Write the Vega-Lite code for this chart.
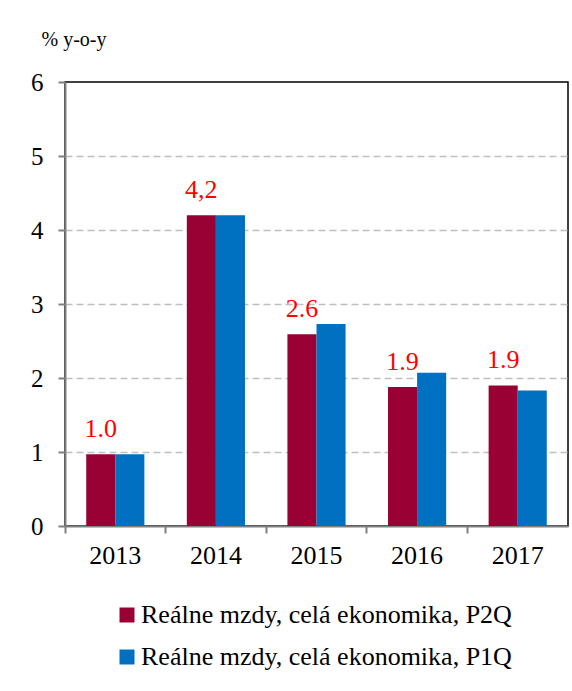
{
  "$schema": "https://vega.github.io/schema/vega-lite/v6.json",
  "width": 503,
  "height": 444,
  "autosize": {"type": "none"},
  "padding": {"left": 65, "top": 82, "right": 4, "bottom": 165},
  "background": "white",
  "config": {
    "font": "Liberation Serif, serif",
    "axis": {"labelFont": "Liberation Serif, serif", "titleFont": "Liberation Serif, serif"},
    "legend": {"labelFont": "Liberation Serif, serif"},
    "text": {"font": "Liberation Serif, serif"},
    "view": {"stroke": "black", "strokeWidth": 1.5}
  },
  "data": {
    "values": [
      {"year": "2013", "series": "Reálne mzdy, celá ekonomika, P2Q", "value": 0.97, "label": "1.0"},
      {"year": "2013", "series": "Reálne mzdy, celá ekonomika, P1Q", "value": 0.97},
      {"year": "2014", "series": "Reálne mzdy, celá ekonomika, P2Q", "value": 4.2, "label": "4,2"},
      {"year": "2014", "series": "Reálne mzdy, celá ekonomika, P1Q", "value": 4.2},
      {"year": "2015", "series": "Reálne mzdy, celá ekonomika, P2Q", "value": 2.59, "label": "2.6"},
      {"year": "2015", "series": "Reálne mzdy, celá ekonomika, P1Q", "value": 2.73},
      {"year": "2016", "series": "Reálne mzdy, celá ekonomika, P2Q", "value": 1.88, "label": "1.9"},
      {"year": "2016", "series": "Reálne mzdy, celá ekonomika, P1Q", "value": 2.07},
      {"year": "2017", "series": "Reálne mzdy, celá ekonomika, P2Q", "value": 1.9, "label": "1.9"},
      {"year": "2017", "series": "Reálne mzdy, celá ekonomika, P1Q", "value": 1.83}
    ]
  },
  "layer": [
    {
      "mark": {"type": "bar"},
      "encoding": {
        "x": {
          "field": "year",
          "type": "nominal",
          "scale": {"paddingInner": 0, "paddingOuter": 0},
          "axis": {
            "title": null,
            "labelAngle": 0,
            "labelFontSize": 26,
            "labelColor": "black",
            "labelPadding": 9,
            "tickSize": 7,
            "bandPosition": 0,
            "domainColor": "#808080",
            "domainWidth": 2,
            "tickColor": "#808080",
            "tickWidth": 2,
            "grid": false
          }
        },
        "xOffset": {
          "field": "series",
          "type": "nominal",
          "sort": ["Reálne mzdy, celá ekonomika, P2Q", "Reálne mzdy, celá ekonomika, P1Q"],
          "scale": {"paddingInner": 0, "paddingOuter": 0.73}
        },
        "y": {
          "field": "value",
          "type": "quantitative",
          "scale": {"domain": [0, 6], "nice": false},
          "axis": {
            "values": [0, 1, 2, 3, 4, 5, 6],
            "format": "d",
            "labelFontSize": 25,
            "labelColor": "black",
            "labelPadding": 15,
            "tickSize": 7,
            "tickColor": "#808080",
            "tickWidth": 2,
            "domainColor": "#808080",
            "domainWidth": 2,
            "gridColor": {"condition": {"test": "datum.value === 0 || datum.value === 6", "value": "transparent"}, "value": "#BFBFBF"},
            "gridDash": [7, 4],
            "gridWidth": 1.5,
            "title": "% y-o-y",
            "titleAngle": 0,
            "titleX": -24,
            "titleY": -43,
            "titleAlign": "left",
            "titleBaseline": "middle",
            "titleFontSize": 20,
            "titleFontWeight": "normal",
            "titleColor": "black"
          }
        },
        "color": {
          "field": "series",
          "type": "nominal",
          "scale": {
            "domain": ["Reálne mzdy, celá ekonomika, P2Q", "Reálne mzdy, celá ekonomika, P1Q"],
            "range": ["#990033", "#0070C0"]
          },
          "legend": {
            "orient": "none",
            "legendX": 49,
            "legendY": 520,
            "direction": "vertical",
            "title": null,
            "symbolType": "square",
            "symbolSize": 225,
            "symbolStrokeWidth": 0,
            "labelFontSize": 26,
            "labelColor": "black",
            "rowPadding": 16,
            "labelOffset": 1,
            "padding": 0,
            "offset": 0,
            "labelLimit": 500
          }
        }
      }
    },
    {
      "transform": [{"filter": "datum.label != null"}],
      "mark": {"type": "text", "dy": -17, "baseline": "alphabetic", "fontSize": 26, "color": "#FF0000"},
      "encoding": {
        "x": {"field": "year", "type": "nominal"},
        "xOffset": {
          "field": "series",
          "type": "nominal",
          "sort": ["Reálne mzdy, celá ekonomika, P2Q", "Reálne mzdy, celá ekonomika, P1Q"]
        },
        "y": {"field": "value", "type": "quantitative"},
        "text": {"field": "label"}
      }
    }
  ]
}
